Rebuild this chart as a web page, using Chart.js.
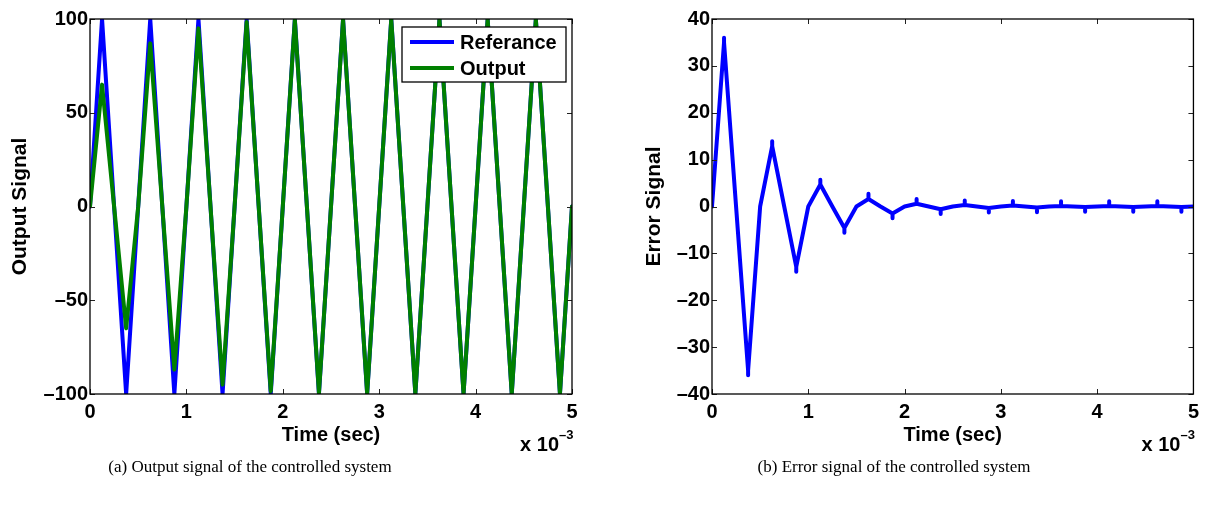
<!DOCTYPE html>
<html>
<head>
<meta charset="utf-8">
<script src="https://cdn.jsdelivr.net/npm/chart.js@4.4.0/dist/chart.umd.min.js"></script>
<style>
  html, body { margin: 0; padding: 0; background: #fff; }
  body { width: 1205px; height: 507px; position: relative; overflow: hidden; }
  .plot { position: absolute; top: 0; }
  .caption { position: absolute; font-family: "Liberation Serif", "Times New Roman", serif; font-size: 17px; color: #000; white-space: nowrap; transform: translateX(-50%); }
</style>
</head>
<body>
<div class="plot" style="left:0"><canvas id="outChart" width="600" height="470"></canvas></div>
<div class="plot" style="left:612px"><canvas id="errChart" width="593" height="470"></canvas></div>
<div class="caption" style="left:250px;top:457px">(a) Output signal of the controlled system</div>
<div class="caption" style="left:894px;top:457px">(b) Error signal of the controlled system</div>
<script>
// time axis in ms (plotted as x 10^-3 sec)
const timeMs = [0, 0.125, 0.25, 0.375, 0.5, 0.625, 0.75, 0.875, 1, 1.125, 1.25, 1.375, 1.5, 1.625, 1.75, 1.875,
  2, 2.125, 2.25, 2.375, 2.5, 2.625, 2.75, 2.875, 3, 3.125, 3.25, 3.375, 3.5, 3.625, 3.75, 3.875,
  4, 4.125, 4.25, 4.375, 4.5, 4.625, 4.75, 4.875, 5];

const referance = [0, 100, 0, -100, 0, 100, 0, -100, 0, 100, 0, -100, 0, 100, 0, -100,
  0, 100, 0, -100, 0, 100, 0, -100, 0, 100, 0, -100, 0, 100, 0, -100,
  0, 100, 0, -100, 0, 100, 0, -100, 0];

const output = [0, 65, 0, -65, 0, 87, 0, -87, 0, 95, 0, -95, 0, 98.4, 0, -98.5,
  0, 99.4, 0, -99.4, 0, 99.7, 0, -99.7, 0, 99.8, 0, -99.8, 0, 99.9, 0, -99.9,
  0, 99.9, 0, -99.9, 0, 99.9, 0, -99.9, 0];

const errorSig = [0, 35, 0, -35, 0, 12.9, 0, -12.9, 0, 4.7, 0, -4.6, 0, 1.6, 0, -1.5,
  0, 0.6, 0, -0.6, 0, 0.3, 0, -0.3, 0, 0.2, 0, -0.2, 0, 0.1, 0, -0.1,
  0, 0.1, 0, -0.1, 0, 0.1, 0, -0.1, 0];

// tips of the narrow spikes seen at each peak of the error trace
const errSpikeTip = [null, 36, null, -36, null, 13.9, null, -13.9, null, 5.7, null, -5.6, null, 2.7, null, -2.5,
  null, 1.6, null, -1.6, null, 1.3, null, -1.3, null, 1.2, null, -1.2, null, 1.1, null, -1.1,
  null, 1.1, null, -1.1, null, 1.1, null, -1.1, null];

const xTicks = [0, 1, 2, 3, 4, 5];

const FONT = '"Liberation Sans", Arial, Helvetica, sans-serif';

function toXY(ys) {
  return timeMs.map((t, i) => ({ x: t, y: ys[i] }));
}

function errPoints() {
  const pts = [];
  timeMs.forEach((t, i) => {
    pts.push({ x: t, y: errorSig[i] });
    if (errSpikeTip[i] !== null) {
      pts.push({ x: t, y: errSpikeTip[i] });
      pts.push({ x: t, y: errorSig[i] });
    }
  });
  return pts;
}

const tickLabel = v => (v < 0 ? '\u2013' + Math.abs(v) : String(v));

// box, inward ticks, titles, exponent and legend drawn MATLAB style
const matlabFrame = {
  id: 'matlabFrame',
  afterDraw(chart, args, opts) {
    const { ctx, chartArea: a, scales: { x, y } } = chart;
    ctx.save();
    ctx.strokeStyle = '#222';
    ctx.lineWidth = 1;
    ctx.beginPath();
    x.ticks.forEach(t => {
      const px = Math.round(x.getPixelForValue(t.value)) + 0.5;
      ctx.moveTo(px, a.bottom); ctx.lineTo(px, a.bottom - 5);
      ctx.moveTo(px, a.top); ctx.lineTo(px, a.top + 5);
    });
    y.ticks.forEach(t => {
      const py = Math.round(y.getPixelForValue(t.value)) + 0.5;
      ctx.moveTo(a.left, py); ctx.lineTo(a.left + 5, py);
      ctx.moveTo(a.right, py); ctx.lineTo(a.right - 5, py);
    });
    ctx.stroke();
    ctx.strokeStyle = '#000';
    ctx.lineWidth = 1.3;
    ctx.strokeRect(a.left, a.top, a.right - a.left, a.bottom - a.top);

    ctx.fillStyle = '#000';
    ctx.font = 'bold 20px ' + FONT;
    ctx.textAlign = 'center';
    ctx.textBaseline = 'middle';
    ctx.fillText(opts.xTitle, (a.left + a.right) / 2, a.bottom + 41);
    ctx.save();
    ctx.translate(a.left - opts.yTitleOffset, (a.top + a.bottom) / 2);
    ctx.rotate(-Math.PI / 2);
    ctx.font = 'bold 21px ' + FONT;
    ctx.fillText(opts.yTitle, 0, 0);
    ctx.restore();

    ctx.textAlign = 'right';
    ctx.textBaseline = 'alphabetic';
    ctx.font = 'bold 20px ' + FONT;
    ctx.fillText('x 10', a.right - 13, a.bottom + 57);
    ctx.font = 'bold 13px ' + FONT;
    ctx.textAlign = 'left';
    ctx.fillText('\u20133', a.right - 13, a.bottom + 45);

    if (opts.legend) {
      const lx = a.right - 170, ly = a.top + 8, lw = 164, lh = 55;
      ctx.fillStyle = '#fff';
      ctx.fillRect(lx, ly, lw, lh);
      ctx.strokeStyle = '#000';
      ctx.lineWidth = 1.3;
      ctx.strokeRect(lx, ly, lw, lh);
      chart.data.datasets.forEach((ds, i) => {
        const ry = ly + 15 + i * 26;
        ctx.strokeStyle = ds.borderColor;
        ctx.lineWidth = 4;
        ctx.beginPath();
        ctx.moveTo(lx + 8, ry); ctx.lineTo(lx + 52, ry);
        ctx.stroke();
        ctx.fillStyle = '#000';
        ctx.font = 'bold 20px ' + FONT;
        ctx.textAlign = 'left';
        ctx.textBaseline = 'middle';
        ctx.fillText(ds.label, lx + 58, ry + 1);
      });
    }
    ctx.restore();
  }
};

function axisOptions(yMin, yMax, yStep, yWidth) {
  return {
    x: {
      type: 'linear', min: 0, max: 5,
      grid: { display: false, drawTicks: false },
      border: { display: false },
      afterBuildTicks: s => { s.ticks = xTicks.map(v => ({ value: v })); },
      ticks: { color: '#000', padding: 6, font: { family: FONT, size: 20, weight: 'bold' }, callback: tickLabel },
      afterFit: s => { s.height = 40; }
    },
    y: {
      type: 'linear', min: yMin, max: yMax,
      grid: { display: false, drawTicks: false },
      border: { display: false },
      ticks: { stepSize: yStep, color: '#000', padding: 2, font: { family: FONT, size: 20, weight: 'bold' }, callback: tickLabel },
      afterFit: s => { s.width = yWidth; }
    }
  };
}

const lineStyle = { pointRadius: 0, borderWidth: 4, tension: 0, borderJoinStyle: 'round', borderCapStyle: 'round', clip: 0 };

new Chart(document.getElementById('outChart'), {
  type: 'line',
  data: {
    datasets: [
      Object.assign({ label: 'Referance', data: toXY(referance), borderColor: '#0000ff', order: 1 }, lineStyle),
      Object.assign({ label: 'Output', data: toXY(output), borderColor: '#008000', order: 0 }, lineStyle)
    ]
  },
  options: {
    responsive: false,
    animation: false,
    layout: { padding: { top: 19, right: 28, bottom: 36, left: 0 } },
    scales: axisOptions(-100, 100, 50, 90),
    plugins: {
      legend: { display: false },
      tooltip: { enabled: false },
      matlabFrame: { xTitle: 'Time (sec)', yTitle: 'Output Signal', yTitleOffset: 70, legend: true }
    }
  },
  plugins: [matlabFrame]
});

new Chart(document.getElementById('errChart'), {
  type: 'line',
  data: {
    datasets: [
      Object.assign({ label: 'Error', data: errPoints(), borderColor: '#0000ff' }, lineStyle)
    ]
  },
  options: {
    responsive: false,
    animation: false,
    layout: { padding: { top: 19, right: 9, bottom: 36, left: 0 } },
    scales: axisOptions(-40, 40, 10, 100),
    plugins: {
      legend: { display: false },
      tooltip: { enabled: false },
      matlabFrame: { xTitle: 'Time (sec)', yTitle: 'Error Signal', yTitleOffset: 58, legend: false }
    }
  },
  plugins: [matlabFrame]
});
</script>
</body>
</html>
